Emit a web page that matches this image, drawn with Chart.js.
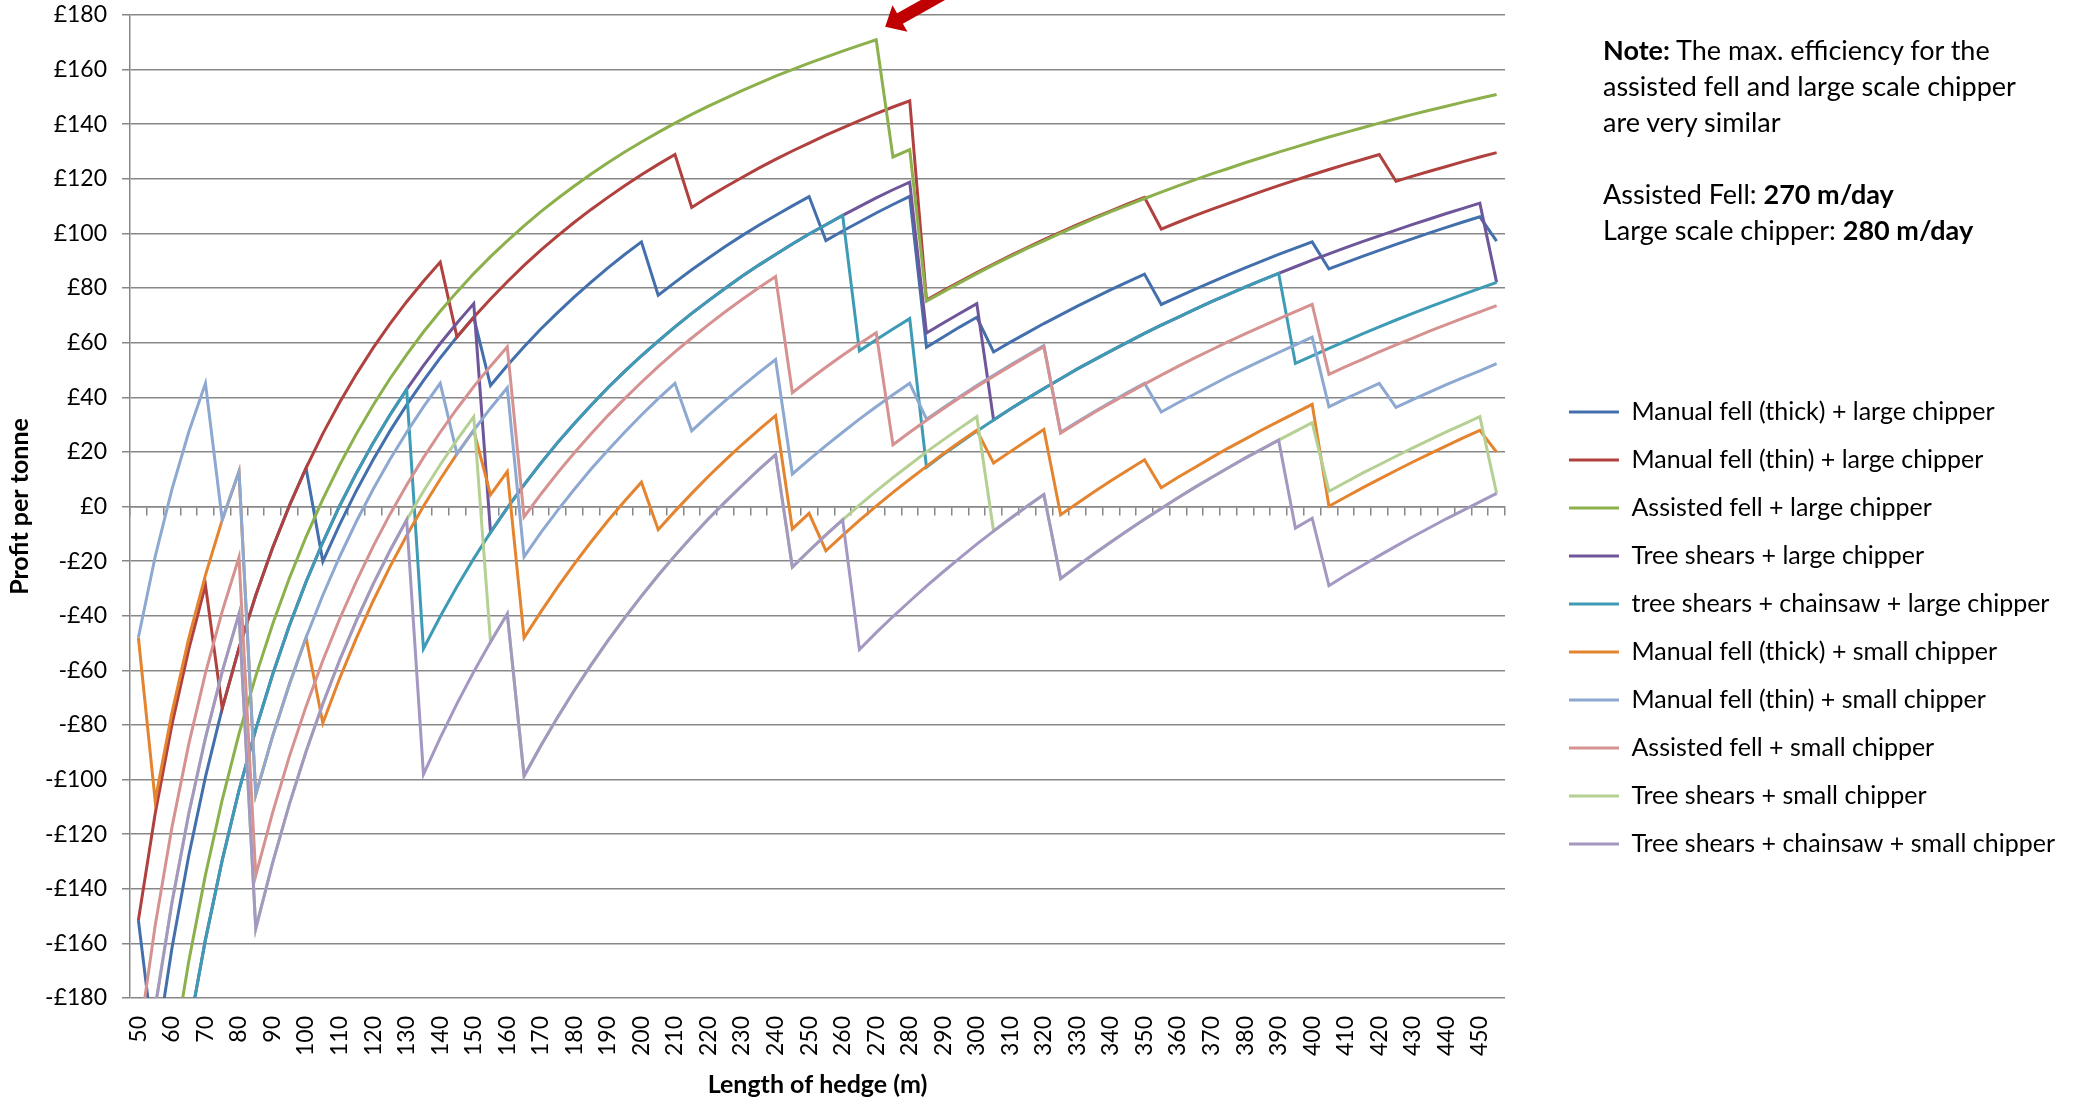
<!DOCTYPE html>
<html>
<head>
<meta charset="utf-8">
<title>Profit per tonne by hedge length</title>
<script src="https://cdn.jsdelivr.net/npm/chart.js@4.4.1/dist/chart.umd.min.js"></script>
<style>
    html, body { margin: 0; padding: 0; background: #fff; }
    #wrap { position: relative; width: 2078px; height: 1101px; }
    #note {
        position: absolute; left: 1603px; top: 32px;
        font-family: Lato, sans-serif; font-size: 27px; line-height: 36px; color: #000;
    }
</style>
</head>
<body>
<div id="wrap">
    <canvas id="chart"></canvas>
    <div id="note"><b>Note:</b> The max. efficiency for the<br>assisted fell and large scale chipper<br>are very similar<br><br>Assisted Fell: <b>270 m/day</b><br>Large scale chipper: <b>280 m/day</b></div>
</div>
<script>
// hedge length (m), one category every 5 m
var lengths = ['50', '55', '60', '65', '70', '75', '80', '85', '90', '95',
    '100', '105', '110', '115', '120', '125', '130', '135', '140', '145',
    '150', '155', '160', '165', '170', '175', '180', '185', '190', '195',
    '200', '205', '210', '215', '220', '225', '230', '235', '240', '245',
    '250', '255', '260', '265', '270', '275', '280', '285', '290', '295',
    '300', '305', '310', '315', '320', '325', '330', '335', '340', '345',
    '350', '355', '360', '365', '370', '375', '380', '385', '390', '395',
    '400', '405', '410', '415', '420', '425', '430', '435', '440', '445',
    '450', '455'];

var seriesNames = [
    'Manual fell (thick) + large chipper',
    'Manual fell (thin) + large chipper',
    'Assisted fell + large chipper',
    'Tree shears + large chipper',
    'tree shears + chainsaw + large chipper',
    'Manual fell (thick) + small chipper',
    'Manual fell (thin) + small chipper',
    'Assisted fell + small chipper',
    'Tree shears + small chipper',
    'Tree shears + chainsaw + small chipper'
];

// profit per tonne (£)
var manualThickLarge = [-151.5, -201.8, -161.8, -128, -99, -73.9, -51.9, -32.5, -15.2, 0.2,
    14.1, -20.1, -6.6, 5.8, 17.1, 27.6, 37.2, 46.1, 54.4, 62.1,
    69.3, 44.3, 51.6, 58.5, 65, 71, 76.8, 82.2, 87.4, 92.3,
    96.9, 77.4, 82.1, 86.7, 91, 95.2, 99.2, 103, 106.6, 110.1,
    113.5, 97.4, 100.9, 104.2, 107.5, 110.6, 113.6, 58.3, 62.1, 65.8,
    69.3, 56.6, 60.2, 63.6, 67, 70.2, 73.4, 76.4, 79.4, 82.3,
    85.1, 74, 76.8, 79.5, 82.2, 84.8, 87.4, 89.9, 92.3, 94.6,
    96.9, 87, 89.3, 91.6, 93.8, 96, 98.1, 100.2, 102.2, 104.2,
    106.1, 97.2];

var manualThinLarge = [-151.5, -112.5, -79.9, -52.4, -28.8, -73.9, -51.9, -32.5, -15.2, 0.2,
    14.1, 26.7, 38.1, 48.5, 58.1, 66.9, 75, 82.5, 89.5, 62.1,
    69.3, 76, 82.3, 88.3, 93.9, 99.1, 104.1, 108.8, 113.2, 117.5,
    121.5, 125.3, 128.9, 109.5, 113.4, 117, 120.5, 123.9, 127.1, 130.2,
    133.1, 136, 138.7, 141.3, 143.9, 146.3, 148.6, 75.6, 79.1, 82.4,
    85.7, 88.8, 91.9, 94.8, 97.7, 100.5, 103.2, 105.8, 108.3, 110.8,
    113.2, 101.6, 104.1, 106.5, 108.8, 111, 113.2, 115.4, 117.5, 119.5,
    121.5, 123.4, 125.3, 127.1, 128.9, 119.1, 121, 122.8, 124.5, 126.3,
    128, 129.6];

var assistedLarge = [-300.1, -247.6, -203.8, -166.7, -134.9, -107.4, -83.3, -62.1, -43.2, -26.3,
    -11.1, 2.7, 15.2, 26.6, 37.1, 46.8, 55.6, 63.9, 71.5, 78.6,
    85.3, 91.5, 97.3, 102.8, 108, 112.8, 117.4, 121.8, 125.9, 129.8,
    133.5, 137, 140.4, 143.6, 146.6, 149.5, 152.3, 155, 157.6, 160,
    162.4, 164.6, 166.8, 168.9, 170.9, 128, 130.7, 75.2, 78.6, 82,
    85.3, 88.5, 91.5, 94.5, 97.3, 100.1, 102.8, 105.4, 108, 110.4,
    112.8, 115.1, 117.4, 119.6, 121.8, 123.8, 125.9, 127.8, 129.8, 131.6,
    133.5, 135.3, 137, 138.7, 140.4, 142, 143.6, 145.1, 146.6, 148.1,
    149.5, 150.9];

var shearsLarge = [-333.2, -277.7, -231.4, -192.2, -158.6, -129.5, -104, -81.6, -61.6, -43.7,
    -27.6, -13.1, 0.2, 12.2, 23.3, 33.5, 42.9, 51.6, 59.7, 67.2,
    74.3, -9.5, -0.5, 7.9, 15.9, 23.4, 30.4, 37.1, 43.5, 49.5,
    55.2, 60.6, 65.8, 70.7, 75.4, 79.9, 84.3, 88.4, 92.3, 96.1,
    99.8, 103.2, 106.6, 109.8, 113, 116, 118.8, 63.5, 67.2, 70.8,
    74.3, 31.7, 35.7, 39.5, 43.2, 46.8, 50.4, 53.7, 57, 60.2,
    63.4, 66.4, 69.3, 72.2, 75, 77.7, 80.3, 82.9, 85.4, 87.8,
    90.2, 92.5, 94.8, 97, 99.1, 101.2, 103.3, 105.3, 107.3, 109.2,
    111.1, 82.1];

var shearsSawLarge = [-333.2, -277.7, -231.4, -192.2, -158.6, -129.5, -104, -81.6, -61.6, -43.7,
    -27.6, -13.1, 0.2, 12.2, 23.3, 33.5, 42.9, -52.1, -40.3, -29.3,
    -19.1, -9.5, -0.5, 7.9, 15.9, 23.4, 30.4, 37.1, 43.5, 49.5,
    55.2, 60.6, 65.8, 70.7, 75.4, 79.9, 84.3, 88.4, 92.3, 96.1,
    99.8, 103.2, 106.6, 57, 61.1, 65, 68.8, 14.4, 19, 23.3,
    27.6, 31.7, 35.7, 39.5, 43.2, 46.8, 50.4, 53.7, 57, 60.2,
    63.4, 66.4, 69.3, 72.2, 75, 77.7, 80.3, 82.9, 85.4, 52.4,
    55.2, 57.9, 60.6, 63.2, 65.8, 68.3, 70.7, 73.1, 75.4, 77.7,
    79.9, 82.1];

var manualThickSmall = [-48, -107.7, -75.6, -48.4, -25.1, -4.9, 12.8, -105.5, -84.2, -65.2,
    -48, -79.3, -63, -48.2, -34.6, -22.1, -10.6, 0.1, 10, 19.3,
    27.9, 4.3, 12.8, -48.1, -38.6, -29.5, -21, -12.9, -5.2, 2,
    8.9, -8.5, -1.7, 4.8, 11.1, 17, 22.7, 28.1, 33.3, -8.2,
    -2.5, -16.2, -10.6, -5.1, 0.1, 5.2, 10, 14.7, 19.3, 23.7,
    27.9, 15.9, 20.1, 24.2, 28.2, -3, 1.2, 5.4, 9.4, 13.3,
    17.1, 6.9, 10.7, 14.3, 17.9, 21.4, 24.7, 28, 31.2, 34.3,
    37.4, 0.1, 3.5, 6.8, 10, 13.2, 16.3, 19.3, 22.2, 25.1,
    27.9, 19.9];

var manualThinSmall = [-48, -18.4, 6.3, 27.2, 45.1, -4.9, 12.8, -105.5, -84.2, -65.2,
    -48, -32.5, -18.4, -5.5, 6.3, 17.2, 27.2, 36.5, 45.1, 19.3,
    27.9, 36, 43.5, -18.4, -9.6, -1.4, 6.3, 13.7, 20.6, 27.2,
    33.5, 39.5, 45.1, 27.7, 33.4, 38.8, 44, 49, 53.8, 11.9,
    17.2, 22.3, 27.2, 32, 36.5, 40.9, 45.1, 32, 36.2, 40.3,
    44.3, 48.1, 51.8, 55.4, 58.9, 27.2, 31, 34.7, 38.3, 41.8,
    45.1, 34.6, 38, 41.2, 44.4, 47.6, 50.6, 53.5, 56.4, 59.2,
    62, 36.5, 39.5, 42.3, 45.1, 36.3, 39.1, 41.9, 44.6, 47.2,
    49.7, 52.3];

var assistedSmall = [-196.6, -153.5, -117.5, -87.1, -61, -38.4, -18.6, -135.1, -112.2, -91.6,
    -73.2, -56.4, -41.2, -27.4, -14.6, -2.9, 7.9, 17.9, 27.2, 35.8,
    43.9, 51.4, 58.5, -3.8, 4.5, 12.3, 19.7, 26.6, 33.3, 39.5,
    45.5, 51.2, 56.6, 61.7, 66.6, 71.3, 75.8, 80.1, 84.2, 41.7,
    46.4, 51, 55.4, 59.6, 63.6, 22.6, 27.2, 31.6, 35.8, 39.9,
    43.9, 47.7, 51.4, 55, 58.5, 26.9, 30.7, 34.4, 37.9, 41.4,
    44.8, 48.1, 51.3, 54.4, 57.4, 60.4, 63.2, 66, 68.7, 71.4,
    74, 48.4, 51.2, 53.9, 56.6, 59.2, 61.7, 64.2, 66.6, 69,
    71.3, 73.6];

var shearsSmall = [-229.7, -183.6, -145.1, -112.6, -84.7, -60.5, -39.3, -154.6, -130.6, -109.1,
    -89.7, -72.2, -56.3, -41.8, -28.4, -16.2, -4.9, 5.6, 15.3, 24.4,
    32.9, -49.6, -39.3, -98.7, -87.6, -77.2, -67.3, -58, -49.1, -40.8,
    -32.8, -25.2, -18, -11.1, -4.5, 1.7, 7.7, 13.5, 19, -22.2,
    -16.2, -10.4, -4.9, 0.5, 5.6, 10.6, 15.3, 20, 24.4, 28.7,
    32.9, -9, -4.4, 0.1, 4.4, -26.4, -21.8, -17.3, -13, -8.8,
    -4.7, -0.7, 3.2, 7, 10.6, 14.2, 17.7, 21, 24.3, 27.5,
    30.7, 5.6, 8.9, 12.2, 15.3, 18.4, 21.5, 24.4, 27.3, 30.1,
    32.9, 4.8];

var shearsSawSmall = [-229.7, -183.6, -145.1, -112.6, -84.7, -60.5, -39.3, -154.6, -130.6, -109.1,
    -89.7, -72.2, -56.3, -41.8, -28.4, -16.2, -4.9, -98.1, -84.7, -72.2,
    -60.5, -49.6, -39.3, -98.7, -87.6, -77.2, -67.3, -58, -49.1, -40.8,
    -32.8, -25.2, -18, -11.1, -4.5, 1.7, 7.7, 13.5, 19, -22.2,
    -16.2, -10.4, -4.9, -52.4, -46.2, -40.3, -34.7, -29.2, -23.9, -18.8,
    -13.8, -9, -4.4, 0.1, 4.4, -26.4, -21.8, -17.3, -13, -8.8,
    -4.7, -0.7, 3.2, 7, 10.6, 14.2, 17.7, 21, 24.3, -7.9,
    -4.3, -29, -25.2, -21.6, -18, -14.5, -11.1, -7.8, -4.5, -1.4,
    1.7, 4.8];

var seriesValues = [manualThickLarge, manualThinLarge, assistedLarge, shearsLarge, shearsSawLarge,
    manualThickSmall, manualThinSmall, assistedSmall, shearsSmall, shearsSawSmall];

var seriesColors = ['#4370AC', '#B0413E', '#8CB04B', '#6F559A', '#3E9BB6',
    '#E5842F', '#8DA8D1', '#D59290', '#B4D093', '#A497C2'];

var gridColor = '#878787';
var tickFont = { family: 'Lato', size: 23 };
var titleFont = { family: 'Lato', size: 25, weight: 'bold' };
var plotRight = 1505;   // right edge of the plot area
var rightPad = 13;

// excel draws later series on top, chart.js draws the first dataset on top,
// so the list is reversed here and the legend reversed back
var datasets = seriesNames.map(function (name, i) {
    return {
        label: name,
        data: seriesValues[i],
        borderColor: seriesColors[i],
        backgroundColor: seriesColors[i],
        borderWidth: 3,
        pointRadius: 0,
        pointHoverRadius: 0,
        tension: 0,
        fill: false
    };
}).reverse();

// red call-out arrow pointing at the assisted fell peak
var arrowPlugin = {
    id: 'peakArrow',
    afterDatasetsDraw: function (chart) {
        var dsIndex = chart.data.datasets.findIndex(function (d) { return d.label === 'Assisted fell + large chipper'; });
        var pt = chart.getDatasetMeta(dsIndex).data[lengths.indexOf('270')];
        if (!pt) return;
        var c = chart.ctx;
        var tx = pt.x + 9, ty = pt.y - 13;
        c.save();
        c.fillStyle = '#C00000';
        c.beginPath();
        c.moveTo(tx, ty);
        c.lineTo(tx + 7.3, ty - 21.6);
        c.lineTo(tx + 11.9, ty - 13.5);
        c.lineTo(tx + 116.3, ty - 72.3);
        c.lineTo(tx + 122.1, ty - 61.9);
        c.lineTo(tx + 17.7, ty - 3.1);
        c.lineTo(tx + 22.3, ty + 5);
        c.closePath();
        c.fill();
        c.restore();
    }
};

var ctx = document.getElementById('chart').getContext('2d');
var chart = new Chart(ctx, {
    type: 'line',
    plugins: [arrowPlugin],
    data: { labels: lengths, datasets: datasets },
    options: {
        responsive: true,
        maintainAspectRatio: false,
        devicePixelRatio: 1,
        animation: false,
        layout: { padding: { top: 15, right: rightPad, bottom: 0, left: 0 } },
        plugins: {
            tooltip: { enabled: false },
            legend: {
                position: 'right',
                align: 'start',
                reverse: true,
                maxWidth: 800,
                title: { display: true, text: ' ', font: { size: 12 }, padding: { top: 347, bottom: 0 } },
                labels: {
                    usePointStyle: true,
                    pointStyle: 'line',
                    pointStyleWidth: 50,
                    padding: 23,
                    color: '#000',
                    font: { family: 'Lato', size: 25 }
                }
            }
        },
        scales: {
            x: {
                type: 'category',
                offset: true,
                grid: { display: false, drawTicks: false },
                border: { display: false },
                ticks: {
                    autoSkip: false, minRotation: 90, maxRotation: 90, padding: 18,
                    color: '#000', font: tickFont,
                    callback: function (val, i) { return i % 2 === 0 ? this.getLabelForValue(val) : ''; }
                },
                title: { display: true, text: 'Length of hedge (m)', color: '#000', font: titleFont, padding: { top: 0, bottom: 1 } },
                afterFit: function (s) { s.height = 103; }
            },
            xZero: {
                type: 'category',
                offset: true,
                position: { y: 0 },
                grid: { display: true, drawOnChartArea: false, drawTicks: true, tickLength: 8, color: gridColor, lineWidth: 1.5, offset: true },
                border: { display: true, color: gridColor, width: 1.5 },
                ticks: { display: false, autoSkip: false }
            },
            y: {
                min: -180,
                max: 180,
                ticks: {
                    stepSize: 20, padding: 15, color: '#000', font: tickFont,
                    callback: function (v) { return v < 0 ? '-£' + Math.abs(v) : '£' + v; }
                },
                grid: { color: gridColor, lineWidth: 1.5, tickLength: 8 },
                border: { display: true, color: gridColor, width: 1.5 },
                title: { display: true, text: 'Profit per tonne', color: '#000', font: titleFont, padding: { top: 5, bottom: 0 } },
                afterFit: function (s) {
                    s.width = 130;
                    s.paddingTop = 14;   // top label only needs half its height
                }
            },
            gap: {
                type: 'linear',
                position: 'right',
                grid: { display: false },
                border: { display: false },
                ticks: { display: false },
                afterFit: function (s) {
                    var lg = s.chart.legend;
                    s.width = Math.max(0, s.chart.width - rightPad - (lg ? lg.width : 0) - plotRight);
                }
            }
        }
    }
});
</script>
</body>
</html>
